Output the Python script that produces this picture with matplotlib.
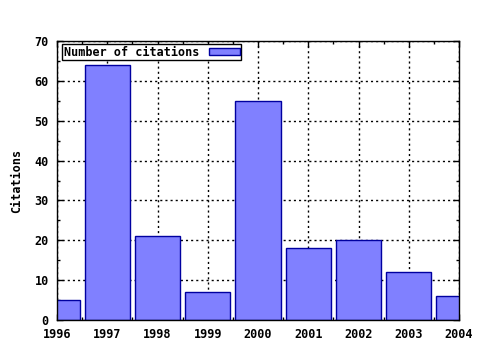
import matplotlib
matplotlib.use("Agg")
import matplotlib.pyplot as plt
from matplotlib.patches import Patch

# data
years = [1996, 1997, 1998, 1999, 2000, 2001, 2002, 2003, 2004]
citations = [5, 64, 21, 7, 55, 18, 20, 12, 6]

plt.rcParams["font.family"] = "DejaVu Sans Mono"
plt.rcParams["font.weight"] = "bold"
plt.rcParams["axes.labelweight"] = "bold"
plt.rcParams["font.size"] = 8.5

fig = plt.figure(figsize=(4.8, 3.5), dpi=100)
ax = fig.add_axes([57 / 480, 1 - 320 / 350, (459 - 57) / 480, (320 - 41) / 350])

ax.bar(years, citations, width=0.9, color="#8080ff", edgecolor="#0000a0",
       linewidth=1.0, zorder=2)

ax.set_xlim(1996, 2004)
ax.set_ylim(0, 70)
ax.set_xticks(years)
ax.set_yticks(range(0, 71, 10))
ax.set_xticks([y + 0.5 for y in years[:-1]], minor=True)
ax.set_yticks(range(5, 70, 10), minor=True)
ax.grid(True, which="major", linestyle=(0, (1.5, 2.2)), color="black",
        linewidth=1.0, zorder=1)
ax.tick_params(which="both", direction="in", top=True, right=True,
               length=4, width=1, pad=6)
ax.tick_params(which="minor", length=2)
for s in ax.spines.values():
    s.set_linewidth(1)
ax.set_axisbelow(True)

ax.set_ylabel("Citations", labelpad=8)

leg = ax.legend(handles=[Patch(facecolor="#8080ff", edgecolor="#0000a0",
                               label="Number of citations")],
                loc="upper left", bbox_to_anchor=(0.013, 0.99),
                frameon=True, fancybox=False, borderpad=0.15,
                handlelength=2.6, handleheight=0.6, markerfirst=False,
                borderaxespad=0.0, handletextpad=0.8)
leg.get_frame().set_edgecolor("black")
leg.get_frame().set_linewidth(1)
leg.get_frame().set_alpha(1)

fig.savefig("out.png", dpi=100)
